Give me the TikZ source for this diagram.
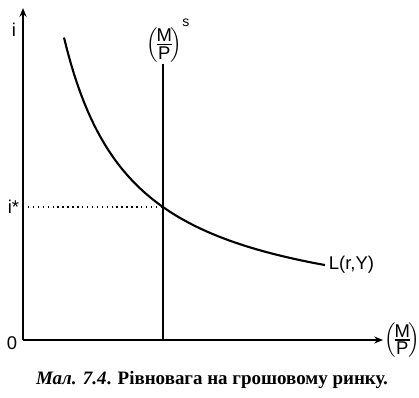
\documentclass[tikz,border=0pt]{standalone}
\usepackage{fontspec}
\usepackage{amsmath}
\setmainfont{Liberation Serif}
\setsansfont{Liberation Sans}
\usetikzlibrary{arrows.meta, positioning}

\newcommand{\mpfrac}{{\nulldelimiterspace=0pt
    \left(\!\genfrac{}{}{0.8pt}{1}{\mbox{M}}{\mbox{P}}\!\right)}}

\begin{document}
\begin{tikzpicture}[x=0.02cm, y=0.02cm, >={Stealth[length=5pt,width=4pt]},
    axis/.style={->, line width=1pt},
    curve/.style={line width=1.2pt},
    lbl/.style={font=\sffamily\fontsize{10.5}{12}\selectfont, inner sep=1pt}]
    \useasboundingbox (-23,-57) rectangle (396,340);

    % Axes
    \coordinate (O) at (0,0);
    \coordinate (ytop) at (0,332);
    \coordinate (xend) at (360,0);
    \draw[axis] (O) -- (ytop);
    \draw[axis] (O) -- (xend);
    \node[lbl] (zero) at (-11,-3) {0};
    \node[lbl] (ilab) at (-9,310) {i};
    \node[lbl, inner sep=0pt, right=0.5pt of xend] (xlab) {$\mpfrac$};

    % Money supply
    \coordinate (MsB) at (140,0);
    \coordinate (MsT) at (140,276);
    \draw[curve] (MsB) -- (MsT);
    \node[lbl, inner sep=0pt, above=1pt of MsT, xshift=3pt] (Mslab)
        {$\mpfrac^{\mbox{\fontsize{8}{9}\selectfont\raisebox{3pt}{s}}}$};

    % Money demand
    \draw[curve] plot[domain=41:302, samples=80] (\x, {14.8+198.49/(\x+28)*100});
    \coordinate (Lend) at (302,74.95);
    \node[lbl, right=1pt of Lend] (Llab) {L(r,Y)};

    % Equilibrium
    \coordinate (E) at (140,133);
    \coordinate (istar) at (0,133);
    \draw[dotted, line width=0.8pt] (istar) -- (E);
    \node[lbl, left=1pt of istar] (istarlab) {i*};

    % Caption
    \node[font=\fontsize{10.8}{13}\selectfont\bfseries] (cap) at (189,-40)
        {{\itshape Мал. 7.4}. Рівновага на грошовому ринку.};
\end{tikzpicture}
\end{document}
